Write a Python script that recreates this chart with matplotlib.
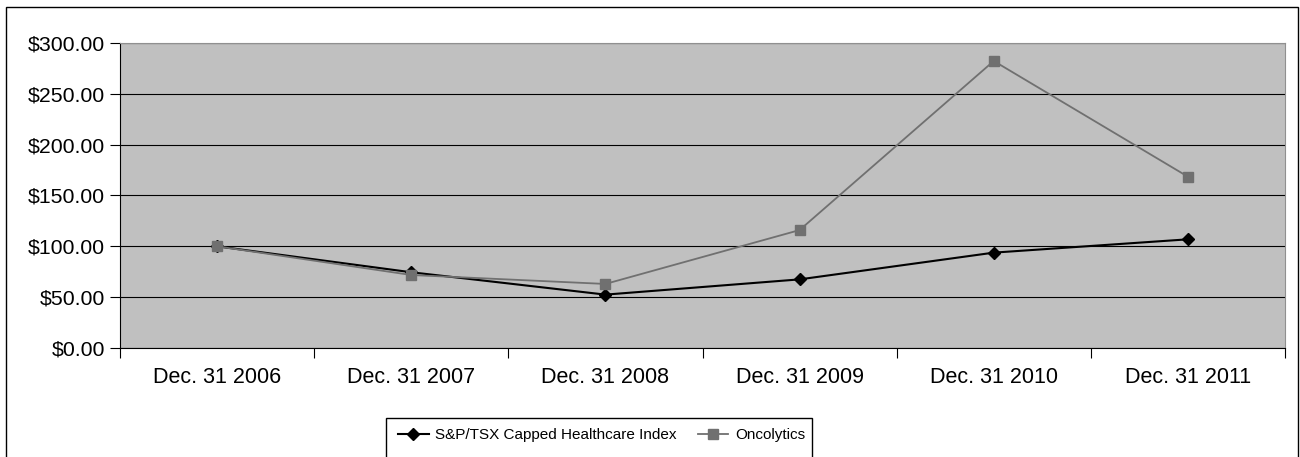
import matplotlib
import matplotlib.pyplot as plt
from matplotlib.patches import Rectangle

matplotlib.use("Agg")

plt.rcParams["font.family"] = ["Liberation Sans", "DejaVu Sans"]

# data
years = ["Dec. 31 2006", "Dec. 31 2007", "Dec. 31 2008",
         "Dec. 31 2009", "Dec. 31 2010", "Dec. 31 2011"]
healthcare_index = [100.0, 74.5, 52.5, 67.5, 93.8, 106.9]
oncolytics = [100.0, 71.8, 63.0, 116.0, 282.3, 168.5]
y_ticks = [0, 50, 100, 150, 200, 250, 300]

W, H = 1300, 457
fig = plt.figure(figsize=(W / 100, H / 100), dpi=100)
ax = fig.add_axes([120 / W, 1 - 348 / H, (1285 - 120) / W, (348 - 43) / H])

ax.set_facecolor("#C0C0C0")
x = list(range(len(years)))
ax.plot(x, healthcare_index, color="black", linewidth=1.5, marker="D",
        markersize=6, label="S&P/TSX Capped Healthcare Index", zorder=3)
ax.plot(x, oncolytics, color="#707070", linewidth=1.3, marker="s",
        markersize=7, label="Oncolytics", zorder=3)

ax.set_xlim(-0.5, len(years) - 0.5)
ax.set_ylim(0, 300)
ax.set_yticks(y_ticks)
ax.set_yticklabels([f"${v:.2f}" for v in y_ticks], fontsize=15.3)
ax.set_xticks([i + 0.5 for i in range(-1, len(years))])
ax.set_xticklabels([])
ax.set_xticks(x, minor=True)
ax.set_xticklabels(years, minor=True, fontsize=15.5)
ax.tick_params(axis="x", which="minor", length=0, pad=14)
ax.tick_params(axis="x", which="major", length=7, direction="out", color="black")
ax.tick_params(axis="y", length=7, direction="out", color="black", pad=4)

ax.grid(axis="y", color="black", linewidth=0.8)
ax.set_axisbelow(True)
for s in ["top", "right"]:
    ax.spines[s].set_color("#909090")
for s in ["left", "bottom"]:
    ax.spines[s].set_color("black")

# legend entries without frame; box drawn separately (it runs off the bottom edge)
leg = fig.legend(loc="center left", bbox_to_anchor=(398 / W, 1 - 435 / H),
                 ncol=2, fontsize=11, frameon=False, handlelength=2.0,
                 handletextpad=0.45, columnspacing=1.35, borderpad=0,
                 borderaxespad=0)
fig.patches.append(Rectangle((386 / W, -0.05), (812 - 386) / W, 0.05 + 1 - 418 / H,
                             transform=fig.transFigure, fill=False,
                             edgecolor="black", linewidth=1.0))

# outer chart border
fig.patches.append(Rectangle((6 / W, -0.05), (1298 - 6) / W, 1.05 - 7 / H,
                             transform=fig.transFigure, fill=False,
                             edgecolor="black", linewidth=1.0))

plt.savefig("out.png", dpi=100)
plt.close()
